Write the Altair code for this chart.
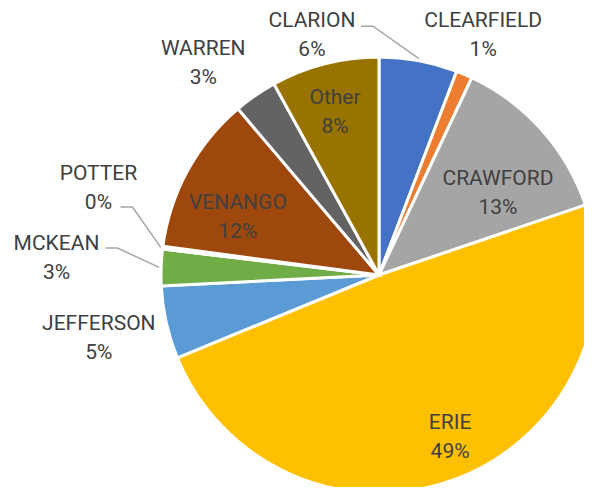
import math
import pandas as pd
import altair as alt

# ---- data ----
names = ["CLARION", "CLEARFIELD", "CRAWFORD", "ERIE", "JEFFERSON",
         "MCKEAN", "POTTER", "VENANGO", "WARREN", "Other"]
values = [5.8, 1.2, 12.8, 49.0, 5.4, 2.7, 0.2, 11.7, 3.2, 8.0]
pct_labels = ["6%", "1%", "13%", "49%", "5%", "3%", "0%", "12%", "3%", "8%"]
colors = ["#4472C4", "#ED7D31", "#A5A5A5", "#FFC000", "#5B9BD5",
          "#70AD47", "#264478", "#9E480E", "#636363", "#997300"]

# ---- layout (not data) ----
CX, CY, R = 371, 267, 218          # pie centre / radius in chart pixels
LH = 29                            # label line height
# label block: (distance from centre, angular shift from slice midpoint, degrees)
label_layout = {
    "CLARION": (250, -26.0), "CLEARFIELD": (263, 0.3), "CRAWFORD": (145, 6.9),
    "ERIE": (176, -3.3), "JEFFERSON": (287, 0.1), "MCKEAN": (323, 1.2),
    "POTTER": (294, 10.2), "VENANGO": (153, -5.9), "WARREN": (276, -5.0),
    "Other": (170, -0.6),
}
# leader line start relative to the label block centre
leader_start = {"CLARION": (49, -8), "POTTER": (22, 20), "MCKEAN": (49, -9)}

total = sum(values)
mids = []
acc = 0.0
for v in values:
    mids.append((acc + v / 2) / total * 360.0)
    acc += v

df = pd.DataFrame({"name": names, "value": values, "order": list(range(len(names)))})

lab_rows = []
for n, p, m in zip(names, pct_labels, mids):
    r, sh = label_layout[n]
    a = math.radians(m + sh)
    lab_rows.append({"x": CX + r * math.sin(a), "y": CY - r * math.cos(a),
                     "text": n + "\n" + p})
df_lab = pd.DataFrame(lab_rows)

line_rows = []
for n, m in zip(names, mids):
    if n not in leader_start:
        continue
    r, sh = label_layout[n]
    a = math.radians(m + sh)
    lx, ly = CX + r * math.sin(a), CY - r * math.cos(a)
    sx, sy = lx + leader_start[n][0], ly + leader_start[n][1]
    am = math.radians(m)
    ex, ey = CX + (R + 2) * math.sin(am), CY - (R + 2) * math.cos(am)
    pts = [(sx, sy), (sx + 12, sy), (ex, ey)]
    for i, (px, py) in enumerate(pts):
        line_rows.append({"seg": n, "ord": i, "x": px, "y": py})
df_line = pd.DataFrame(line_rows)

arc = alt.Chart(df).mark_arc(outerRadius=R, stroke="white", strokeWidth=3).encode(
    theta=alt.Theta("value:Q", stack=True),
    color=alt.Color("name:N", scale=alt.Scale(domain=names, range=colors), legend=None),
    order=alt.Order("order:Q"),
    x=alt.value(CX),
    y=alt.value(CY),
)

lines = alt.Chart(df_line).mark_line(color="#A6A6A6", strokeWidth=1.5).encode(
    x=alt.X("x:Q", scale=None, axis=None),
    y=alt.Y("y:Q", scale=None, axis=None),
    detail="seg:N",
    order="ord:Q",
)

text = alt.Chart(df_lab).mark_text(
    font="Roboto", fontSize=21, color="#404040",
    lineBreak="\n", lineHeight=LH, align="center", baseline="middle", dy=-LH / 2 + 1.5,
).encode(
    x=alt.X("x:Q", scale=None, axis=None),
    y=alt.Y("y:Q", scale=None, axis=None),
    text="text:N",
)

chart = alt.layer(arc, lines, text).properties(
    width=576, height=479, padding=0, autosize="none"
).configure_view(stroke=None)

chart.save("out.html", embed_options={"renderer": "svg", "actions": False})
